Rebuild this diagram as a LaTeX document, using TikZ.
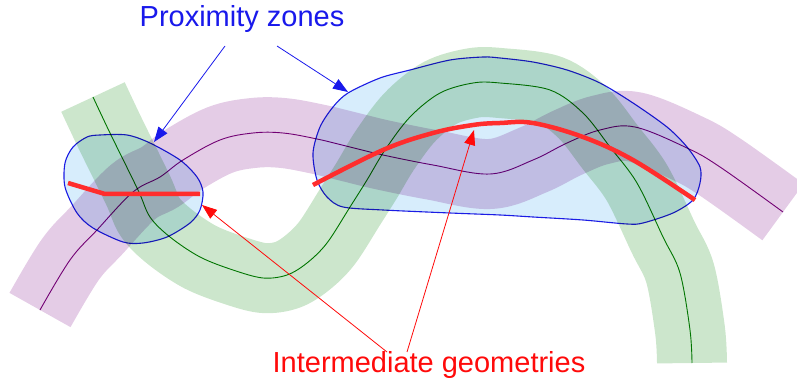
\documentclass[tikz,border=0pt]{standalone}
\usepackage{fontspec}
\setmainfont{Liberation Sans}
\usetikzlibrary{arrows.meta}
\definecolor{bandgreen}{RGB}{204,230,204}
\definecolor{bandpurple}{RGB}{228,204,230}
\definecolor{zonefill}{RGB}{215,237,252}
\definecolor{zoneline}{RGB}{30,30,230}
\definecolor{geomred}{RGB}{255,45,45}
\definecolor{lgreen}{RGB}{0,130,0}
\definecolor{lpurple}{RGB}{128,0,128}
\definecolor{textblue}{RGB}{25,25,235}
\definecolor{textred}{RGB}{255,10,10}
\tikzset{
  band/.style={line width=70pt},
  centreline/.style={line width=0.9pt},
  zone/.style={fill=zonefill, draw=zoneline, line width=1.1pt},
  geom/.style={geomred, line width=4.5pt, line join=round},
  bluearrow/.style={textblue, line width=0.8pt, -{Triangle[length=15pt,width=11pt]}},
  redarrow/.style={textred, line width=0.8pt, -{Triangle[length=15pt,width=11pt]}},
  label/.style={font=\fontsize{29}{32}\selectfont, inner sep=0pt, anchor=base}
}
\begin{document}
\begin{tikzpicture}[x=1pt,y=-1pt]
\useasboundingbox (0,0) rectangle (797,387);
\begin{scope}[blend mode=multiply]
  % green band
  \draw[band, bandgreen] plot[smooth, tension=0.55] coordinates {(93,97) (110,133) (138,190) (150,217) (170,237) (200,257) (233,270) (263,278) (287,275) (307,263) (327,243) (350,207) (367,180) (385,150) (410,117) (440,93) (473,83) (500,83) (550,90) (583,113) (610,147) (637,183) (663,237) (680,273) (690,330) (692,363)};
  % purple band
  \draw[band, bandpurple] plot[smooth, tension=0.6] coordinates {(40,310) (70,260) (97,230) (133,192) (160,177) (183,160) (220,140) (253,133) (283,133) (317,139) (350,147) (383,155) (433,165) (490,174) (533,160) (567,143) (600,130) (635,127) (687,148) (720,167) (783,212)};
  % centre lines
  \draw[centreline, lgreen] plot[smooth, tension=0.55] coordinates {(93,97) (110,133) (138,190) (150,217) (170,237) (200,257) (233,270) (263,278) (287,275) (307,263) (327,243) (350,207) (367,180) (385,150) (410,117) (440,93) (473,83) (500,83) (550,90) (583,113) (610,147) (637,183) (663,237) (680,273) (690,330) (692,363)};
  \draw[centreline, lpurple] plot[smooth, tension=0.6] coordinates {(40,310) (70,260) (97,230) (133,192) (160,177) (183,160) (220,140) (253,133) (283,133) (317,139) (350,147) (383,155) (433,165) (490,174) (533,160) (567,143) (600,130) (635,127) (687,148) (720,167) (783,212)};
  % proximity zones
  \filldraw[zone] plot[smooth cycle, tension=0.5] coordinates {(100,135) (127,135) (150,143) (180,160) (197,177) (203,192) (200,210) (190,223) (167,237) (143,243) (123,242) (93,228) (77,213) (65,187) (65,163) (73,147) (87,137)};
  \filldraw[zone] plot[smooth cycle, tension=0.5] coordinates {(348,93) (380,78) (410,70) (450,60) (483,57) (500,58) (533,62) (567,70) (600,83) (633,103) (667,127) (687,147) (700,167) (700,183) (693,200) (673,213) (643,223) (627,224) (583,220) (533,217) (500,215) (450,213) (383,210) (343,207) (327,197) (317,180) (313,153) (320,127) (333,107)};
\end{scope}
% intermediate geometries
\draw[geom] (68,183) -- (105,194) -- (200,194);
\draw[geom] plot[smooth, tension=0.6] coordinates {(313,185) (383,150) (433,133) (473,125) (500,123) (533,123) (583,137) (633,160) (695,200)};
% labels
\node[label, textblue] (pz) at (242,27) {Proximity zones};
\node[label, textred] (ig) at (429,372) {Intermediate geometries};
% arrow ends
\coordinate (pzA) at (225,46);
\coordinate (pzB) at (277,46);
\coordinate (zoneL) at (154,142);
\coordinate (zoneR) at (348,92);
\coordinate (igA) at (387,352);
\coordinate (igB) at (407,352);
\coordinate (geomL) at (202,205);
\coordinate (geomR) at (474,130);
\draw[bluearrow] (pzA) -- (zoneL);
\draw[bluearrow] (pzB) -- (zoneR);
\draw[redarrow] (igA) -- (geomL);
\draw[redarrow] (igB) -- (geomR);
\end{tikzpicture}
\end{document}
